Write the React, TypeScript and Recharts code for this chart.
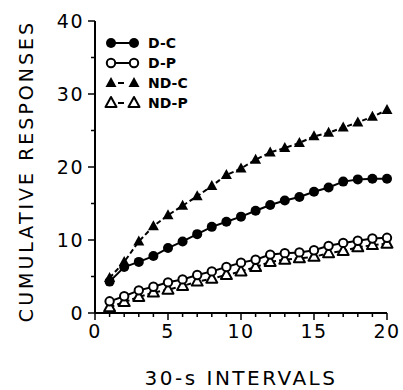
import React from "react";
import { LineChart, Line, XAxis, YAxis } from "recharts";

const intervals = [1, 2, 3, 4, 5, 6, 7, 8, 9, 10, 11, 12, 13, 14, 15, 16, 17, 18, 19, 20];
const dC = [4.3, 6.3, 7.0, 7.8, 8.9, 9.8, 10.8, 11.8, 12.5, 13.2, 14.0, 14.8, 15.4, 15.9, 16.6, 17.2, 18.0, 18.3, 18.4, 18.4];
const dP = [1.6, 2.3, 3.1, 3.6, 4.2, 4.6, 5.2, 5.7, 6.3, 6.9, 7.3, 8.0, 8.2, 8.3, 8.6, 9.2, 9.6, 9.9, 10.2, 10.3];
const ndC = [4.8, 7.0, 9.8, 11.9, 13.4, 14.7, 16.0, 17.4, 18.9, 19.8, 21.0, 22.0, 22.6, 23.3, 24.2, 24.7, 25.4, 26.1, 26.9, 27.8];
const ndP = [0.8, 1.5, 2.2, 2.8, 3.2, 3.7, 4.3, 4.7, 5.2, 5.7, 6.3, 7.0, 7.3, 7.5, 7.7, 8.2, 8.5, 9.0, 9.3, 9.5];

const xTicks = [0, 1, 2, 3, 4, 5, 6, 7, 8, 9, 10, 11, 12, 13, 14, 15, 16, 17, 18, 19, 20];
const yTicks = [0, 5, 10, 15, 20, 25, 30, 35, 40];
const legendNames = ["D-C", "D-P", "ND-C", "ND-P"];

const data = intervals.map((x, i) => ({
  x,
  dc: dC[i],
  dp: dP[i],
  ndc: ndC[i],
  ndp: ndP[i],
}));

const FONT = "'DejaVu Sans', sans-serif";

// marker shapes
const marker = (kind: string, cx: number, cy: number, key?: any) => {
  if (kind === "fc") return <circle key={key} cx={cx} cy={cy} r={5} fill="#000" />;
  if (kind === "oc")
    return <circle key={key} cx={cx} cy={cy} r={4.2} fill="#fff" stroke="#000" strokeWidth={2} />;
  const pts = `${cx},${cy - 6} ${cx + 5.5},${cy + 4} ${cx - 5.5},${cy + 4}`;
  if (kind === "ft") return <polygon key={key} points={pts} fill="#000" />;
  return <polygon key={key} points={pts} fill="#fff" stroke="#000" strokeWidth={2} strokeLinejoin="round" />;
};

const dotFor = (kind: string) => (p: any) => marker(kind, p.cx, p.cy, `${kind}-${p.index}`);

const XTick = (props: any) => {
  const { x, y, payload } = props;
  const major = payload.value % 5 === 0;
  return (
    <g>
      <line x1={x} x2={x} y1={y} y2={y + (major ? 7 : 4)} stroke="#000" strokeWidth={1.5} />
      {major && (
        <text x={x} y={y + 25} textAnchor="middle" fontSize={19} letterSpacing={1.5} fontFamily={FONT} fill="#000">
          {payload.value}
        </text>
      )}
    </g>
  );
};

const YTick = (props: any) => {
  const { x, y, payload } = props;
  const major = payload.value % 10 === 0;
  return (
    <g>
      <line x1={x} x2={x - (major ? 7 : 4)} y1={y} y2={y} stroke="#000" strokeWidth={1.5} />
      {major && (
        <text x={x - 11} y={y} dy="0.36em" textAnchor="end" fontSize={19} letterSpacing={1.5} fontFamily={FONT} fill="#000">
          {payload.value}
        </text>
      )}
    </g>
  );
};

const legendKinds = ["fc", "oc", "ft", "ot"];

const LegendBox = () => (
  <svg width={120} height={80} style={{ position: "absolute", left: 100, top: 35 }}>
    {legendNames.map((name, i) => {
      const cy = 8 + i * 20;
      const tri = i >= 2;
      return (
        <g key={name}>
          <line x1={11} x2={34} y1={cy} y2={cy} stroke="#000" strokeWidth={2} strokeDasharray={tri ? "0 7 6 20" : undefined} />
          {marker(legendKinds[i], 11, cy)}
          {marker(legendKinds[i], 34, cy)}
          <text x={48} y={cy} dy="0.36em" fontSize={14} fontWeight="bold" fontFamily={FONT} fill="#000">
            {name}
          </text>
        </g>
      );
    })}
  </svg>
);

export default function App() {
  return (
    <div style={{ position: "absolute", left: 0, top: 0, width: 403, height: 390, background: "#fff" }}>
      <LineChart width={403} height={390} data={data} margin={{ top: 21, right: 16, left: 0, bottom: 0 }}>
        <XAxis
          dataKey="x"
          type="number"
          domain={[0, 20]}
          ticks={xTicks}
          interval={0}
          height={77}
          tickSize={0}
          tickMargin={0}
          tick={<XTick />}
          axisLine={{ stroke: "#000", strokeWidth: 2 }}
          tickLine={false}
          label={{
            content: () => (
              <text x={241} y={385} textAnchor="middle" fontSize={20} letterSpacing={2.5} fontFamily={FONT} fill="#000">
                30-s INTERVALS
              </text>
            ),
          }}
        />
        <YAxis
          type="number"
          domain={[0, 40]}
          ticks={yTicks}
          interval={0}
          width={95}
          tickSize={0}
          tickMargin={0}
          tick={<YTick />}
          axisLine={{ stroke: "#000", strokeWidth: 2 }}
          tickLine={false}
          label={{
            content: () => (
              <text transform="translate(33,171) rotate(-90)" textAnchor="middle" fontSize={19} letterSpacing={3} fontFamily={FONT} fill="#000">
                CUMULATIVE RESPONSES
              </text>
            ),
          }}
        />
        <Line dataKey="ndp" stroke="#000" strokeWidth={2} strokeDasharray="5 3" dot={dotFor("ot")} isAnimationActive={false} />
        <Line dataKey="dp" stroke="#000" strokeWidth={2} dot={dotFor("oc")} isAnimationActive={false} />
        <Line dataKey="ndc" stroke="#000" strokeWidth={2} strokeDasharray="5 3" dot={dotFor("ft")} isAnimationActive={false} />
        <Line dataKey="dc" stroke="#000" strokeWidth={2} dot={dotFor("fc")} isAnimationActive={false} />
      </LineChart>
      <LegendBox />
    </div>
  );
}
